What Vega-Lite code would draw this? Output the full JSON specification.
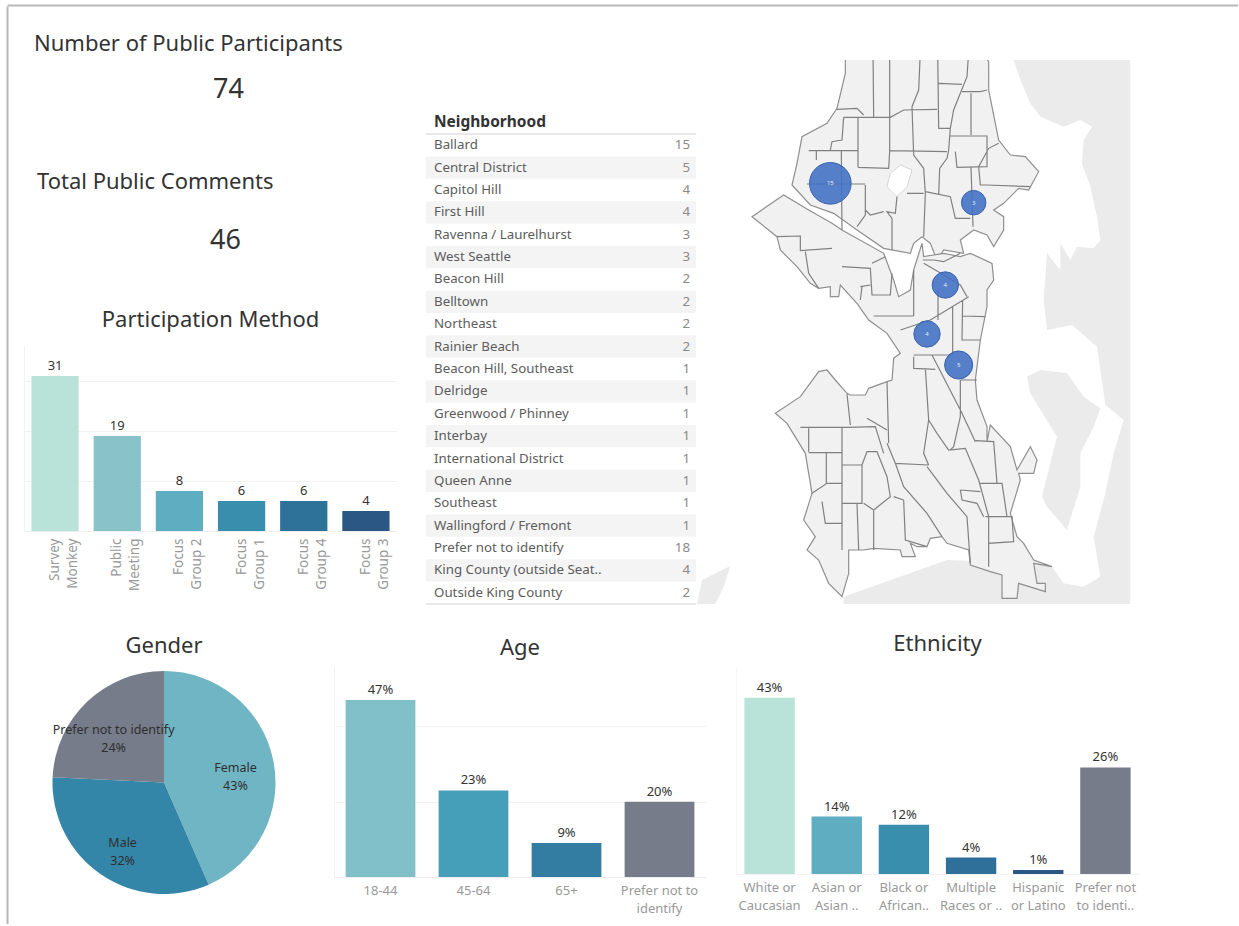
{
"$schema":"https://vega.github.io/schema/vega-lite/v6.json",
"background":"white",
"padding":{"left":7,"top":5,"right":0,"bottom":0},
"config":{"view":{"stroke":null},"font":"Noto Sans","title":{"font":"Noto Sans","fontWeight":"normal","color":"#333333"},"axis":{"labelFont":"Noto Sans"}},
"spacing":0,
"resolve":{"scale":{"color":"independent","size":"independent"}},
"vconcat":[
{"width":1231,"height":1,"data":{"values":[{"a":0}]},"mark":{"type":"point","opacity":0,"size":0},
 "encoding":{"x":{"field":"a","type":"quantitative","axis":{"orient":"top","labels":false,"ticks":false,"grid":false,"title":null,"domainColor":"#b8b8b8","domainWidth":2}}}},
{"spacing":16,"resolve":{"scale":{"color":"independent","size":"independent"}},"hconcat":[
 {"width":1,"height":918,"data":{"values":[{"b":0}]},"mark":{"type":"point","opacity":0,"size":0},
  "encoding":{"y":{"field":"b","type":"quantitative","axis":{"orient":"left","labels":false,"ticks":false,"grid":false,"title":null,"domainColor":"#b8b8b8","domainWidth":2}}}},
 {"spacing":0,"resolve":{"scale":{"color":"independent","size":"independent"}},"vconcat":[
 {"width":10,"height":27,"data":{"values":[{"k":1}]},"mark":{"type":"point","opacity":0,"size":0},"encoding":{}},
 {"spacing":28,"resolve":{"scale":{"color":"independent","size":"independent"}},"vconcat":[
  {"spacing":0,"resolve":{"scale":{"color":"independent","size":"independent"}},"hconcat":[
   {"spacing":51,"resolve":{"scale":{"color":"independent","size":"independent"}},"vconcat":[
    {"width":401,"height":60,"title":{"text":"Number of Public Participants","anchor":"start","frame":"group","dx":10,"fontSize":22,"offset":4},
     "data":{"values":[{"metric":"Number of Public Participants","value":74}]},
     "mark":{"type":"text","fontSize":27,"color":"#333333","dx":4},"encoding":{"text":{"field":"value","type":"quantitative"}}},
    {"width":401,"height":34,"title":{"text":"Total Public Comments","anchor":"start","frame":"group","dx":13,"fontSize":22,"offset":30},
     "data":{"values":[{"metric":"Total Public Comments","value":46}]},
     "mark":{"type":"text","fontSize":27,"color":"#333333","dx":1},"encoding":{"text":{"field":"value","type":"quantitative"}}},
    {"width":373,"height":186,"title":{"text":"Participation Method","fontSize":22,"offset":13},
     "data":{"values":[{"method":"Survey|Monkey","count":31},{"method":"Public|Meeting","count":19},{"method":"Focus|Group 2","count":8},{"method":"Focus|Group 1","count":6},{"method":"Focus|Group 4","count":6},{"method":"Focus|Group 3","count":4}]},
     "encoding":{"x":{"field":"method","type":"nominal","sort":null,"scale":{"paddingInner":0.24,"paddingOuter":0.12},
       "axis":{"title":null,"ticks":false,"domainColor":"#eeeeee","labelColor":"#999999","labelFontSize":13.5,"labelAngle":270,"labelAlign":"right","labelBaseline":"middle","labelLineHeight":18,"labelPadding":7,"labelExpr":"split(datum.label,'|')","labelLimit":0}},
      "y":{"field":"count","type":"quantitative","scale":{"domain":[0,37.2],"nice":false},"axis":{"title":null,"values":[10,20,30],"labels":false,"ticks":false,"domainColor":"#f2f2f2","gridColor":"#f2f2f2"}}},
     "layer":[
      {"mark":{"type":"bar"},"encoding":{"color":{"field":"method","type":"nominal","legend":null,"scale":{"domain":["Survey|Monkey","Public|Meeting","Focus|Group 2","Focus|Group 1","Focus|Group 4","Focus|Group 3"],"range":["#b9e3d9","#89c3c9","#5eadc0","#398eae","#2f7299","#2a5783"]}}}},
      {"mark":{"type":"text","baseline":"bottom","dy":-3,"fontSize":13,"color":"#333333"},"encoding":{"text":{"field":"count","type":"quantitative"}}}
     ]}
   ]},
   {"spacing":0,"resolve":{"scale":{"color":"independent","size":"independent"}},"vconcat":[
    {"width":270,"height":55,"data":{"values":[{"k":1}]},"mark":{"type":"point","opacity":0,"size":0},"encoding":{}},
    {"width":270,"height":470,"title":{"text":"Neighborhood","anchor":"start","frame":"group","dx":8,"fontSize":15.5,"fontWeight":"bold","offset":3},
     "data":{"values":[{"name":"Ballard","count":15},{"name":"Central District","count":5},{"name":"Capitol Hill","count":4},{"name":"First Hill","count":4},{"name":"Ravenna / Laurelhurst","count":3},{"name":"West Seattle","count":3},{"name":"Beacon Hill","count":2},{"name":"Belltown","count":2},{"name":"Northeast","count":2},{"name":"Rainier Beach","count":2},{"name":"Beacon Hill, Southeast","count":1},{"name":"Delridge","count":1},{"name":"Greenwood / Phinney","count":1},{"name":"Interbay","count":1},{"name":"International District","count":1},{"name":"Queen Anne","count":1},{"name":"Southeast","count":1},{"name":"Wallingford / Fremont","count":1},{"name":"Prefer not to identify","count":18},{"name":"King County (outside Seat..","count":4},{"name":"Outside King County","count":2}]},
     "transform":[{"window":[{"op":"row_number","as":"rowNo"}]}],
     "encoding":{"y":{"field":"name","type":"nominal","axis":null,"scale":{"paddingInner":0,"paddingOuter":0,"domain":["Ballard","Central District","Capitol Hill","First Hill","Ravenna / Laurelhurst","West Seattle","Beacon Hill","Belltown","Northeast","Rainier Beach","Beacon Hill, Southeast","Delridge","Greenwood / Phinney","Interbay","International District","Queen Anne","Southeast","Wallingford / Fremont","Prefer not to identify","King County (outside Seat..","Outside King County"]}}},
     "layer":[
      {"transform":[{"filter":"datum.rowNo % 2 == 0"}],"mark":{"type":"rect","color":"#f4f4f4"}},
      {"transform":[{"filter":"datum.rowNo == 1"}],"mark":{"type":"rule","color":"#d0d0d0"},"encoding":{"y":{"field":"name","type":"nominal","bandPosition":0}}},
      {"transform":[{"filter":"datum.rowNo == 21"}],"mark":{"type":"rule","color":"#d0d0d0"},"encoding":{"y":{"field":"name","type":"nominal","bandPosition":1}}},
      {"mark":{"type":"text","align":"left","x":0,"dx":8,"fontSize":13.3,"color":"#5c5c5c"},"encoding":{"text":{"field":"name","type":"nominal"}}},
      {"mark":{"type":"text","align":"right","dx":-6,"fontSize":13.3,"color":"#8a8a8a"},"encoding":{"x":{"datum":1,"type":"quantitative","scale":{"domain":[0,1]},"axis":null},"text":{"field":"count","type":"quantitative"}}}
     ]}
   ]},
   {"width":435,"height":544,"projection":{"type":"identity","scale":0.33333,"translate":[50,-20]},
    "layer":[
     {"data":{"values":[
      {"type":"Feature","properties":{"name":"East side"},"geometry":{"type":"Polygon","coordinates":[[[790,30],[820,120],[850,190],[880,230],[950,260],[1000,240],[1035,260],[1010,300],[1005,370],[1030,440],[1050,530],[1060,600],[1040,625],[990,620],[970,660],[940,610],[940,690],[900,640],[890,780],[900,870],[975,855],[1050,920],[1075,1095],[1130,1140],[1100,1240],[1075,1360],[1040,1490],[1060,1610],[1010,1640],[950,1630],[915,1580],[860,1570],[600,1560],[290,1670],[290,1692],[1150,1692],[1150,30],[790,30]]]}},
      {"type":"Feature","properties":{"name":"Mercer Island"},"geometry":{"type":"Polygon","coordinates":[[[840,1010],[880,990],[960,1000],[1010,1070],[1060,1105],[1040,1160],[1000,1240],[1000,1340],[960,1470],[900,1400],[885,1370],[930,1190],[850,1060],[840,1010]]]}},
      {"type":"Feature","properties":{"name":"Southwest land"},"geometry":{"type":"Polygon","coordinates":[[[-150,1692],[-135,1620],[-50,1578],[-70,1640],[-95,1692],[-150,1692]]]}}
     ]},"mark":{"type":"geoshape","fill":"#ebebeb","stroke":null},"encoding":{}},
     {"data":{"values":[
      {"type":"Feature","properties":{"name":"Seattle north"},"geometry":{"type":"Polygon","coordinates":[[[295,30],[705,35],[725,65],[725,150],[735,200],[755,300],[790,345],[835,350],[875,395],[845,450],[815,445],[770,490],[740,510],[770,530],[770,570],[740,620],[720,585],[680,570],[640,600],[650,640],[590,630],[570,660],[550,610],[525,590],[500,610],[490,640],[410,625],[330,570],[260,520],[190,495],[135,435],[150,370],[165,290],[240,250],[270,205],[295,100],[295,30]]]}},
      {"type":"Feature","properties":{"name":"Seattle central and south"},"geometry":{"type":"Polygon","coordinates":[[[15,530],[110,465],[185,510],[255,550],[285,570],[410,640],[440,720],[455,770],[490,750],[500,690],[525,610],[530,650],[590,640],[640,650],[670,640],[735,670],[740,720],[720,750],[720,800],[700,900],[685,1020],[690,1080],[720,1160],[720,1205],[730,1155],[790,1220],[810,1290],[850,1220],[870,1260],[860,1300],[815,1300],[820,1320],[790,1420],[810,1490],[830,1510],[860,1560],[915,1580],[860,1570],[870,1630],[895,1630],[895,1655],[815,1630],[810,1675],[765,1675],[765,1605],[730,1595],[670,1575],[665,1530],[600,1510],[585,1490],[550,1495],[540,1520],[510,1520],[490,1510],[505,1550],[465,1550],[460,1530],[380,1525],[350,1530],[305,1530],[305,1600],[285,1670],[245,1630],[215,1560],[180,1530],[205,1490],[170,1440],[195,1360],[175,1240],[120,1150],[85,1120],[160,1070],[215,995],[240,990],[265,1020],[300,1060],[310,1065],[355,1065],[365,1045],[420,1025],[435,1020],[440,955],[460,940],[420,880],[365,840],[330,790],[280,735],[275,770],[250,770],[250,740],[215,745],[190,730],[150,680],[100,630],[90,590],[15,530]]]}}
     ]},"mark":{"type":"geoshape","fill":"#f1f1f1","stroke":"#8f8f8f","strokeWidth":1.2},"encoding":{}},
     {"data":{"values":[
      {"type":"Feature","properties":{"name":"Green Lake"},"geometry":{"type":"Polygon","coordinates":[[[430,400],[460,375],[495,390],[480,440],[450,470],[420,440],[430,400]]]}}
     ]},"mark":{"type":"geoshape","fill":"#ffffff","stroke":"#b5b5b5","strokeWidth":0.5},"encoding":{}},
     {"data":{"values":[
      {"type":"Feature","properties":{"name":"Neighborhood boundaries"},"geometry":{"type":"MultiLineString","coordinates":[
       [[378,30],[380,232]],[[428,30],[428,335],[425,385],[333,382]],[[520,35],[515,150],[495,200],[500,345],[530,385],[535,460],[530,590]],[[572,35],[575,265],[610,265]],[[665,35],[660,110],[640,160],[620,210],[610,265],[605,330],[600,355],[578,385],[575,465]],[[575,130],[645,133]],[[645,155],[700,155],[720,150]],[[672,160],[672,285]],[[270,208],[330,205],[350,225]],[[380,232],[430,232],[470,210],[570,208]],[[290,232],[380,232]],[[290,232],[285,300],[255,305],[250,330]],[[333,232],[333,382]],[[428,332],[600,335]],[[185,332],[333,332]],[[208,332],[208,360]],[[283,332],[285,570]],[[610,288],[720,288],[720,380],[630,382],[625,335]],[[755,310],[725,325],[695,380],[700,435],[720,435],[850,440]],[[672,382],[678,560]],[[535,455],[610,470],[625,535],[670,535]],[[480,460],[530,460]],[[450,470],[445,520],[420,515],[435,535],[435,630]],[[355,435],[355,525],[330,560]],[[180,432],[355,432]],[[355,510],[370,525],[410,515]],[[90,590],[160,588],[160,632],[255,625]],[[175,635],[185,700],[215,745]],[[285,680],[370,685],[375,765],[430,765],[435,700]],[[340,740],[370,735]],[[345,740],[340,780]],[[375,670],[415,650]],[[380,828],[500,828]],[[460,870],[550,840],[665,770]],[[500,690],[500,828]],[[527,660],[560,660],[590,665],[640,640]],[[530,670],[565,690],[640,735],[660,770]],[[573,750],[573,840]],[[617,800],[617,945]],[[647,780],[645,900],[700,900]],[[647,828],[715,830]],
       [[500,945],[617,945]],[[500,950],[500,985],[565,988]],[[535,985],[545,1140],[530,1240],[545,1275]],[[555,945],[645,1120],[685,1205]],[[640,1020],[640,1130],[620,1220],[610,1230]],[[640,1020],[690,1020]],[[685,1202],[740,1205],[750,1330],[765,1330],[780,1430],[795,1430],[800,1505],[725,1510],[725,1580]],[[545,1140],[570,1180],[605,1230],[655,1225],[695,1320],[725,1430],[725,1510]],[[540,1280],[600,1360],[660,1430],[670,1570]],[[445,1270],[545,1275]],[[640,1350],[700,1355]],[[640,1350],[645,1380],[690,1390],[710,1430]],[[700,1330],[750,1330]],[[715,1430],[795,1430]],[[420,1210],[445,1270],[470,1340],[540,1420],[585,1490]],[[160,1162],[300,1162],[385,1160],[410,1240]],[[185,1165],[185,1235]],[[185,1238],[285,1238]],[[238,1238],[238,1330]],[[285,1160],[285,1530]],[[285,1275],[345,1275],[345,1390],[285,1390]],[[345,1275],[360,1235],[390,1235],[420,1310],[430,1370],[380,1410],[350,1390]],[[195,1360],[240,1330],[285,1330]],[[225,1385],[235,1450],[285,1450]],[[330,1390],[335,1530]],[[380,1410],[380,1530]],[[470,1380],[475,1500],[540,1520]],[[440,1370],[470,1380]],[[300,1062],[310,1155]],[[360,1135],[420,1170]],[[420,1025],[425,1210]]
      ]}}
     ]},"mark":{"type":"geoshape","filled":false,"stroke":"#808080","strokeWidth":1.2},"encoding":{}},
     {"data":{"name":"bubbles","values":[{"hood":"Ballard","count":15,"lon":250,"lat":430},{"hood":"Ravenna / Laurelhurst","count":3,"lon":680,"lat":488},{"hood":"Capitol Hill","count":4,"lon":595,"lat":735},{"hood":"First Hill","count":4,"lon":540,"lat":882},{"hood":"Central District","count":5,"lon":635,"lat":975}]},
      "mark":{"type":"circle","fill":"#4472c4","stroke":"#3a62ad","strokeWidth":1,"fillOpacity":0.9,"opacity":1},
      "encoding":{"longitude":{"field":"lon","type":"quantitative"},"latitude":{"field":"lat","type":"quantitative"},"size":{"field":"count","type":"quantitative","legend":null,"scale":{"domain":[3,15],"range":[600,1735],"zero":false}}}},
     {"data":{"name":"bubbles"},"mark":{"type":"text","color":"#e8eefa","fontSize":6},
      "encoding":{"longitude":{"field":"lon","type":"quantitative"},"latitude":{"field":"lat","type":"quantitative"},"text":{"field":"count","type":"quantitative"}}}
    ]}
  ]},
  {"spacing":30,"resolve":{"scale":{"color":"independent","size":"independent"}},"hconcat":[
    {"width":280,"height":231,"title":{"text":"Gender","fontSize":22,"offset":9},
     "data":{"values":[{"gender":"Female","share":0.43,"rank":1},{"gender":"Male","share":0.32,"rank":2},{"gender":"Prefer not to identify","share":0.24,"rank":3}]},
     "transform":[{"calculate":"datum.gender + '\\n' + format(datum.share,'.0%')","as":"label"}],
     "encoding":{"theta":{"field":"share","type":"quantitative","stack":true},"order":{"field":"rank","type":"quantitative"}},
     "layer":[
      {"mark":{"type":"arc","outerRadius":111.5},"encoding":{"color":{"field":"gender","type":"nominal","legend":null,"scale":{"domain":["Female","Male","Prefer not to identify"],"range":["#6fb5c4","#3486a8","#767c8a"]}}}},
      {"mark":{"type":"text","radius":73,"fontSize":12.5,"color":"#2f2f2f","lineBreak":"\n","lineHeight":18},"encoding":{"detail":{"field":"gender","type":"nominal"},"text":{"field":"label","type":"nominal"}}}
     ]},
    {"width":372,"height":210,"title":{"text":"Age","fontSize":22,"offset":7},
     "data":{"values":[{"age":"18-44","share":0.47},{"age":"45-64","share":0.23},{"age":"65+","share":0.09},{"age":"Prefer not to|identify","share":0.20}]},
     "encoding":{"x":{"field":"age","type":"nominal","sort":null,"scale":{"paddingInner":0.25,"paddingOuter":0.125},
       "axis":{"title":null,"ticks":false,"domainColor":"#eeeeee","labelColor":"#999999","labelFontSize":13,"labelAngle":0,"labelLineHeight":18,"labelPadding":7,"labelExpr":"split(datum.label,'|')","labelLimit":0}},
      "y":{"field":"share","type":"quantitative","scale":{"domain":[0,0.5576],"nice":false},"axis":{"title":null,"values":[0.2,0.4],"labels":false,"ticks":false,"domainColor":"#f2f2f2","gridColor":"#f2f2f2"}}},
     "layer":[
      {"mark":{"type":"bar"},"encoding":{"color":{"field":"age","type":"nominal","legend":null,"scale":{"domain":["18-44","45-64","65+","Prefer not to|identify"],"range":["#82c0c9","#459fb9","#337da3","#767c8a"]}}}},
      {"mark":{"type":"text","baseline":"bottom","dy":-3,"fontSize":13,"color":"#333333"},"encoding":{"text":{"field":"share","type":"quantitative","format":".0%"}}}
     ]},
   {"width":403,"height":207,"title":{"text":"Ethnicity","fontSize":22,"offset":11},
    "data":{"values":[{"ethnicity":"White or|Caucasian","share":0.43},{"ethnicity":"Asian or|Asian ..","share":0.14},{"ethnicity":"Black or|African..","share":0.12},{"ethnicity":"Multiple|Races or ..","share":0.04},{"ethnicity":"Hispanic|or Latino","share":0.01},{"ethnicity":"Prefer not|to identi..","share":0.26}]},
    "encoding":{"x":{"field":"ethnicity","type":"nominal","sort":null,"scale":{"paddingInner":0.25,"paddingOuter":0.125},
      "axis":{"title":null,"ticks":false,"domainColor":"#f2f2f2","labelColor":"#999999","labelFontSize":13,"labelAngle":0,"labelLineHeight":18,"labelPadding":7,"labelExpr":"split(datum.label,'|')","labelLimit":0}},
     "y":{"field":"share","type":"quantitative","scale":{"domain":[0,0.505],"nice":false},"axis":{"title":null,"grid":false,"labels":false,"ticks":false,"domainColor":"#f6f6f6"}}},
    "layer":[
     {"mark":{"type":"bar"},"encoding":{"color":{"field":"ethnicity","type":"nominal","legend":null,"scale":{"domain":["White or|Caucasian","Asian or|Asian ..","Black or|African..","Multiple|Races or ..","Hispanic|or Latino","Prefer not|to identi.."],"range":["#b9e3d9","#5eadc0","#398eae","#2f709a","#2a5783","#767c8a"]}}}},
     {"mark":{"type":"text","baseline":"bottom","dy":-3,"fontSize":13,"color":"#333333"},"encoding":{"text":{"field":"share","type":"quantitative","format":".0%"}}}
    ]}
  ]}
 ]}
 ]}
]}
]}
